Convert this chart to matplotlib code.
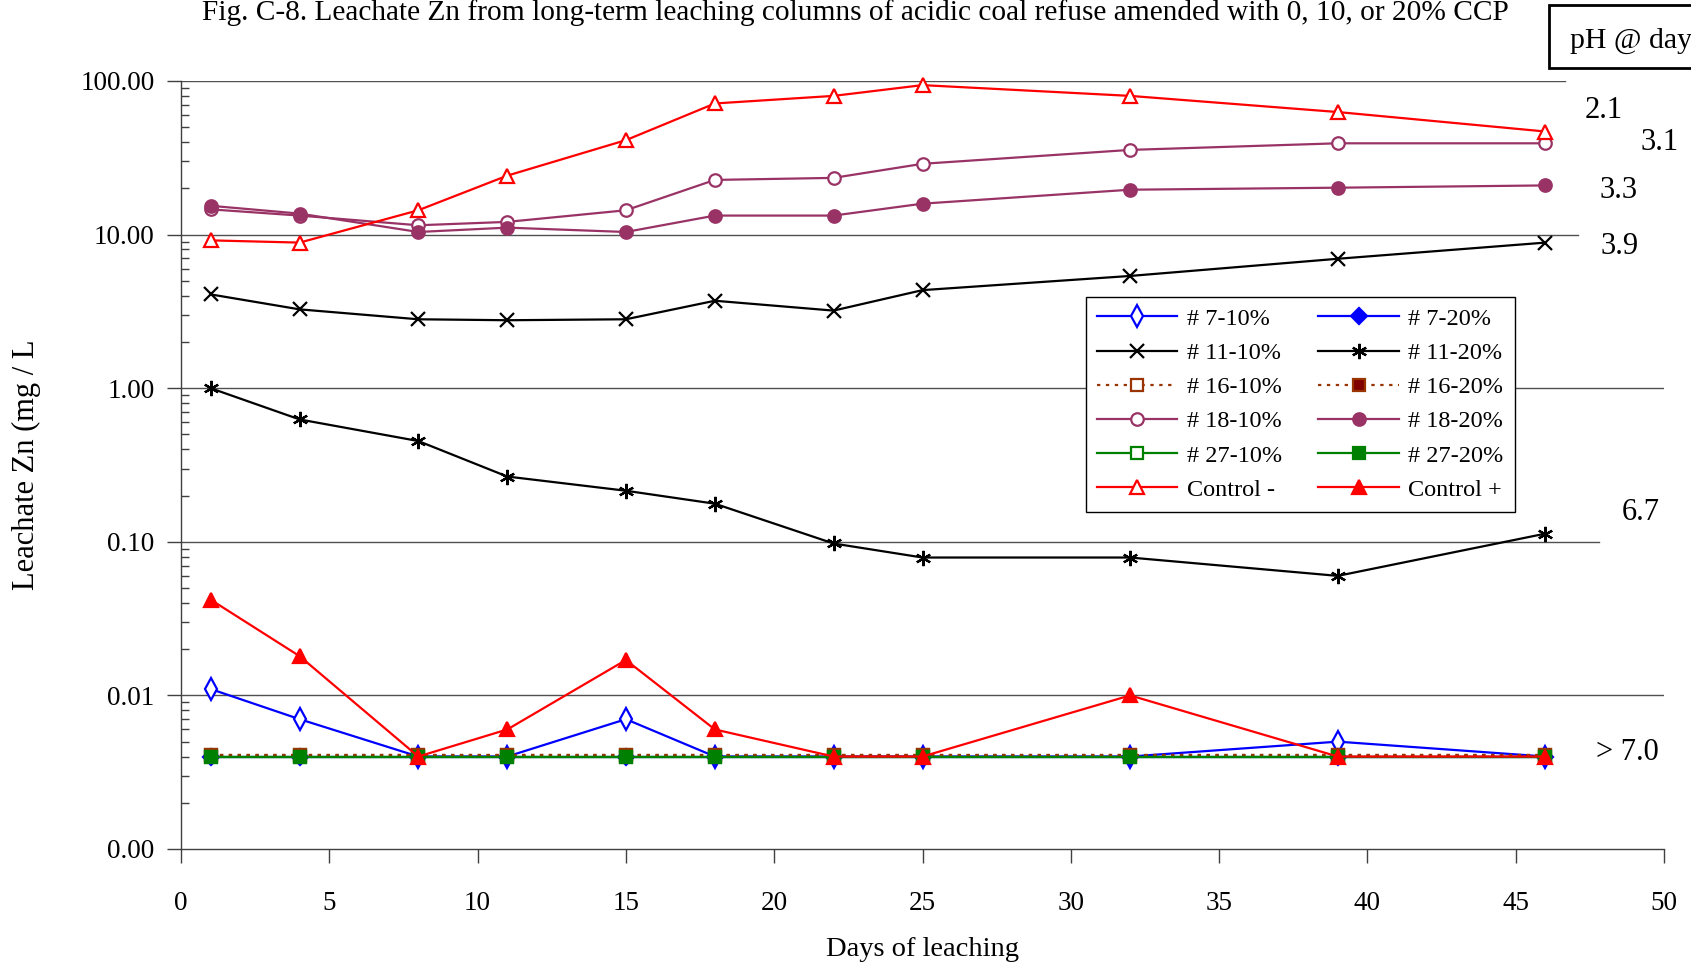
import matplotlib
matplotlib.use("Agg")
import matplotlib.pyplot as plt
from matplotlib.ticker import FixedLocator, FuncFormatter, LogLocator, NullFormatter
from matplotlib.patches import Rectangle

plt.rcParams['font.family'] = ['Liberation Serif', 'DejaVu Serif']

# ---------------- data ----------------
days = [1, 4, 8, 11, 15, 18, 22, 25, 32, 39, 46]

s7_10 = [0.011, 0.007, 0.004, 0.004, 0.007, 0.004, 0.004, 0.004, 0.004, 0.005, 0.004]
s7_20 = [0.004, 0.004, 0.004, 0.004, 0.004, 0.004, 0.004, 0.004, 0.004, 0.004, 0.004]
s11_10 = [4.08, 3.26, 2.81, 2.77, 2.81, 3.71, 3.20, 4.35, 5.38, 6.96, 8.87]
s11_20 = [1.00, 0.626, 0.453, 0.266, 0.215, 0.177, 0.0975, 0.079, 0.079, 0.060, 0.113]
s16_10 = [0.0041, 0.0041, 0.0041, 0.0041, 0.0041, 0.0041, 0.0041, 0.0041, 0.0041, 0.0041, 0.0041]
s16_20 = [0.0041, 0.0041, 0.0041, 0.0041, 0.0041, 0.0041, 0.0041, 0.0041, 0.0041, 0.0041, 0.0041]
s18_10 = [14.6, 13.3, 11.5, 12.1, 14.4, 22.7, 23.4, 28.9, 35.6, 39.3, 39.3]
s18_20 = [15.4, 13.7, 10.4, 11.1, 10.4, 13.3, 13.3, 15.9, 19.6, 20.2, 20.9]
s27_10 = [0.004, 0.004, 0.004, 0.004, 0.004, 0.004, 0.004, 0.004, 0.004, 0.004, 0.004]
s27_20 = [0.004, 0.004, 0.004, 0.004, 0.004, 0.004, 0.004, 0.004, 0.004, 0.004, 0.004]
ctrl_minus = [9.17, 8.87, 14.4, 24.2, 41.2, 71.4, 80.0, 94.0, 80.0, 62.8, 46.9]
ctrl_plus = [0.042, 0.018, 0.004, 0.006, 0.017, 0.006, 0.004, 0.004, 0.010, 0.004, 0.004]

ph_labels = ["2.1", "3.1", "3.3", "3.9", "6.7", "> 7.0"]
x_ticks = [0, 5, 10, 15, 20, 25, 30, 35, 40, 45, 50]
y_ticks = [0.001, 0.01, 0.1, 1, 10, 100]

title = ("Fig. C-8. Leachate Zn from long-term leaching columns of acidic coal "
         "refuse amended with 0, 10, or 20% CCP")

# ---------------- figure ----------------
W, H = 1691, 966
fig = plt.figure(figsize=(W / 100, H / 100), dpi=100)

def fx(px):
    return px / W

def fy(py):
    return 1 - py / H

ax_l, ax_r, ax_t, ax_b = 181, 1664, 81, 849
ax = fig.add_axes([fx(ax_l), fy(ax_b), (ax_r - ax_l) / W, (ax_b - ax_t) / H])
ax.set_yscale('log')
ax.set_xlim(0, 50)
ax.set_ylim(0.001, 100)

# gridlines (partly hidden behind the pH text boxes in the original)
grid_ends = {100: 1565, 10: 1578, 1: 1664, 0.1: 1599, 0.01: 1664}
for v, end in grid_ends.items():
    ax.axhline(v, xmin=0, xmax=(end - ax_l) / (ax_r - ax_l),
               color='#505050', lw=1.0, zorder=1)

lw = 1.6
series = [
    # label, data, color, marker, mfc, mec, ls, ms
    ("# 7-10%", s7_10, '#0000FF', 'd', 'white', '#0000FF', '-', 11),
    ("# 7-20%", s7_20, '#0000FF', 'D', '#0000FF', '#0000FF', '-', 8),
    ("# 11-10%", s11_10, 'black', 'x', 'none', 'black', '-', 10),
    ("# 11-20%", s11_20, 'black', (6, 2, 0), 'none', 'black', '-', 11),
    ("# 16-10%", s16_10, '#993300', 's', 'white', '#993300', (0, (1.5, 2.5)), 8),
    ("# 16-20%", s16_20, '#993300', 's', '#800000', '#993300', (0, (1.5, 2.5)), 8),
    ("# 18-10%", s18_10, '#993366', 'o', 'white', '#993366', '-', 9),
    ("# 18-20%", s18_20, '#993366', 'o', '#993366', '#993366', '-', 9),
    ("# 27-10%", s27_10, '#008000', 's', 'white', '#008000', '-', 8),
    ("# 27-20%", s27_20, '#008000', 's', '#008000', '#008000', '-', 8),
    ("Control -", ctrl_minus, '#FF0000', '^', 'white', '#FF0000', '-', 10),
    ("Control +", ctrl_plus, '#FF0000', '^', '#FF0000', '#FF0000', '-', 10),
]

handles = {}
for i, (lab, data, col, mk, mfc, mec, ls, m) in enumerate(series):
    ln, = ax.plot(days, data, color=col, lw=lw, ls=ls, marker=mk, ms=m,
                  mfc=mfc, mec=mec, mew=1.6, label=lab, zorder=3 + i * 0.1,
                  clip_on=False)
    handles[lab] = ln

order = ["# 7-10%", "# 11-10%", "# 16-10%", "# 18-10%", "# 27-10%", "Control -",
         "# 7-20%", "# 11-20%", "# 16-20%", "# 18-20%", "# 27-20%", "Control +"]
leg = ax.legend([handles[k] for k in order], order, ncol=2,
                loc='upper left',
                bbox_to_anchor=((1086 - ax_l) / (ax_r - ax_l), (ax_b - 297) / (ax_b - ax_t)),
                borderaxespad=0, fontsize=17.5, handlelength=3.3, handletextpad=0.4,
                labelspacing=0.5, columnspacing=1.5, borderpad=0.45,
                frameon=True, fancybox=False, framealpha=1, edgecolor='black')
leg.get_frame().set_linewidth(1.0)
leg.set_zorder(10)

# spines / ticks
for s in ['top', 'right']:
    ax.spines[s].set_visible(False)
for s in ['left', 'bottom']:
    ax.spines[s].set_color('#404040')
    ax.spines[s].set_linewidth(1.0)

ax.xaxis.set_major_locator(FixedLocator(x_ticks))
ax.set_xticklabels([str(t) for t in x_ticks])
ax.yaxis.set_major_locator(FixedLocator(y_ticks))
ax.yaxis.set_major_formatter(FuncFormatter(lambda v, p: f"{v:.2f}"))
ax.yaxis.set_minor_locator(LogLocator(base=10, subs=range(2, 10)))
ax.yaxis.set_minor_formatter(NullFormatter())

ax.tick_params(axis='x', which='major', direction='out', length=10, width=1,
               color='#404040', labelsize=19.5, pad=20)
ax.tick_params(axis='y', which='major', direction='out', length=10, width=1,
               color='#404040', labelsize=19.5, pad=9)
ax.tick_params(axis='y', which='minor', direction='in', length=6, width=1,
               color='#404040')

ax.set_xlabel("Days of leaching", fontsize=20.5, labelpad=15)
ax.set_ylabel("Leachate Zn (mg / L", fontsize=22, labelpad=28)

# title (nudged down just enough to stay inside the figure)
fig.text(fx(855), fy(20), title, ha='center', va='baseline', fontsize=21.2)

# pH box (clipped at the right edge in the original)
fig.patches.append(Rectangle((fx(1549), fy(68)), fx(200), (68 - 5) / H,
                             transform=fig.transFigure, facecolor='white',
                             edgecolor='black', lw=2.0, zorder=5))
fig.text(fx(1570), fy(48), "pH @ day", ha='left', va='baseline', fontsize=21.5, zorder=6)

# pH labels
ph_pos = [(1604, 110), (1660, 143), (1619, 191), (1620, 247), (1641, 513), (1627, 752)]
for lab, (px, py) in zip(ph_labels, ph_pos):
    fig.text(fx(px), fy(py), lab, ha='center', va='center', fontsize=22)

fig.savefig("out.png", dpi=100)
